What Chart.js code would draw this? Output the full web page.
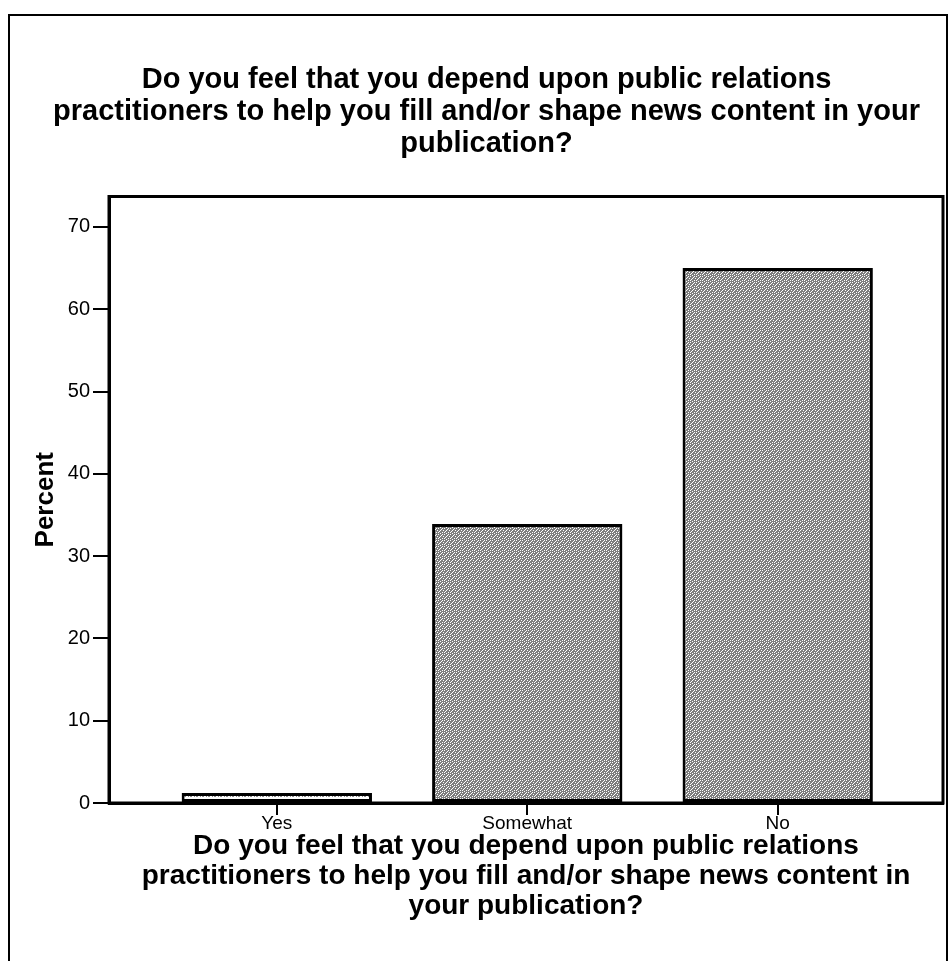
<!DOCTYPE html>
<html>
<head>
<meta charset="utf-8">
<title>Depend upon PR practitioners</title>
<script src="https://cdn.jsdelivr.net/npm/chart.js@4.4.1/dist/chart.umd.min.js"></script>
<style>
  body { margin: 0; background: #fff; }
  #wrap { position: relative; width: 950px; height: 961px; overflow: hidden; }
  #frame { position: absolute; left: 8px; top: 14px; width: 936px; height: 960px;
           border-left: 2px solid #000; border-top: 2px solid #000; border-right: 2px solid #000; }
  canvas { position: absolute; left: 0; top: 0; }
</style>
</head>
<body>
<div id="wrap">
  <div id="frame"></div>
  <canvas id="myChart" width="950" height="961"></canvas>
</div>
<script>
// data
var categories = ['Yes', 'Somewhat', 'No'];
var percents = [1.2, 33.9, 65.0];
var yTicks = [0, 10, 20, 30, 40, 50, 60, 70];

var titleLines = [
    'Do you feel that you depend upon public relations',
    'practitioners to help you fill and/or shape news content in your',
    'publication?'
];
var xTitleLines = [
    'Do you feel that you depend upon public relations',
    'practitioners to help you fill and/or shape news content in',
    'your publication?'
];

var ctx = document.getElementById('myChart').getContext('2d');

// speckled fill like the printed screen tone
function speckle(base, spot, spots) {
    var c = document.createElement('canvas');
    c.width = 6; c.height = 6;
    var p = c.getContext('2d');
    p.fillStyle = base;
    p.fillRect(0, 0, 6, 6);
    p.fillStyle = spot;
    spots.forEach(function(s) { p.fillRect(s[0], s[1], 1, 1); });
    return ctx.createPattern(c, 'repeat');
}
var darkTone = speckle('#7e7e7e', '#ffffff', [[0,0],[3,1],[1,3],[4,4],[2,5],[5,2],[0,4],[4,0],[2,2]]);
var lightTone = speckle('#ffffff', '#8e8e8e', [[0,1],[1,1],[3,1],[4,4],[5,4],[2,4]]);

var frameBox = {
    id: 'frameBox',
    afterDraw: function(chart) {
        var a = chart.chartArea, c = chart.ctx;
        c.save();
        c.strokeStyle = '#000';
        c.lineWidth = 3;
        c.strokeRect(a.left, a.top, a.right - a.left, a.bottom - a.top);
        c.restore();
    }
};

var fontFam = 'Liberation Sans, Arial, sans-serif';

var myChart = new Chart(ctx, {
    type: 'bar',
    data: {
        datasets: [{
            data: categories.map(function(c, i) { return { x: i + 1, y: percents[i] }; }),
            backgroundColor: [lightTone, darkTone, darkTone],
            borderColor: '#000',
            borderWidth: 3,
            borderSkipped: false,
            barPercentage: 0.76,
            categoryPercentage: 1
        }]
    },
    plugins: [frameBox],
    options: {
        responsive: false,
        animation: false,
        layout: { padding: { left: 30, right: 7, top: 0, bottom: 0 } },
        plugins: {
            legend: { display: false },
            tooltip: { enabled: false },
            title: {
                display: true,
                text: titleLines,
                color: '#000',
                font: { family: fontFam, size: 29, weight: 'bold', lineHeight: '32px' },
                padding: { top: 64, bottom: 36.5 }
            }
        },
        scales: {
            x: {
                type: 'linear',
                offset: false,
                min: 0.33,
                max: 3.66,
                afterBuildTicks: function(scale) {
                    scale.ticks = categories.map(function(c, i) { return { value: i + 1 }; });
                },
                afterFit: function(scale) { scale.height = 158; },
                ticks: {
                    color: '#000',
                    font: { family: fontFam, size: 19 },
                    padding: -3,
                    callback: function(v) { return categories[v - 1]; }
                },
                grid: { offset: false, drawOnChartArea: false, drawTicks: true, tickLength: 12, color: '#000', lineWidth: 2 },
                border: { color: '#000', width: 3 },
                title: {
                    display: true,
                    text: xTitleLines,
                    color: '#000',
                    font: { family: fontFam, size: 28, weight: 'bold', lineHeight: '30px' },
                    padding: { top: 0, bottom: 40 }
                }
            },
            y: {
                min: 0,
                max: 73.7,
                afterBuildTicks: function(scale) {
                    scale.ticks = yTicks.map(function(v) { return { value: v }; });
                },
                afterFit: function(scale) { scale.width = 79; },
                ticks: {
                    color: '#000',
                    font: { family: fontFam, size: 20 },
                    padding: 3
                },
                grid: { drawOnChartArea: false, drawTicks: true, tickLength: 16, color: '#000', lineWidth: 2 },
                border: { color: '#000', width: 3 },
                title: {
                    display: true,
                    text: 'Percent',
                    color: '#000',
                    font: { family: fontFam, size: 26, weight: 'bold', lineHeight: 1.0 },
                    padding: { top: 3, bottom: 0 }
                }
            }
        }
    }
});
</script>
</body>
</html>
